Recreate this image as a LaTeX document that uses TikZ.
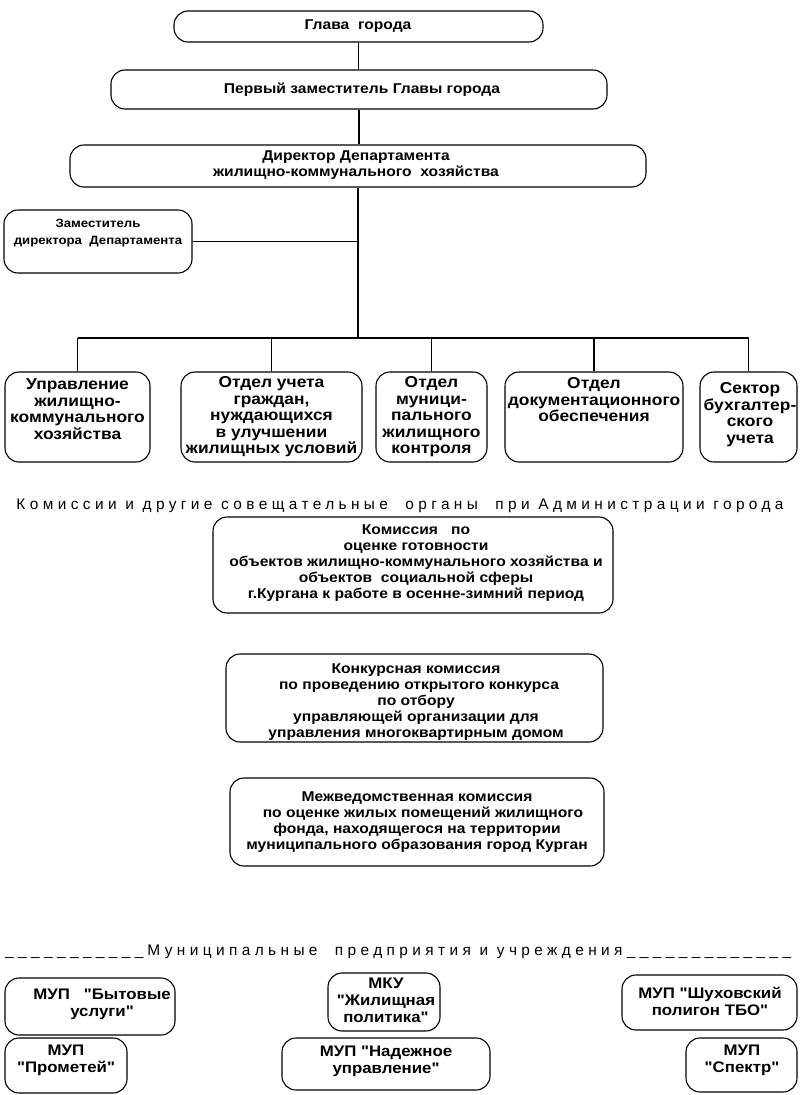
\documentclass[tikz,border=0pt]{standalone}
\usepackage{fontspec}
\setmainfont{Liberation Sans}[FakeStretch=1.1,Ligatures=TeXOff]
\newfontfamily\spc{Liberation Sans}[FakeStretch=1.0,LetterSpace=28.6]
\begin{document}
\begin{tikzpicture}[x=1pt,y=-1pt,
  box/.style={draw, line width=1.1pt, rounded corners=14pt, inner sep=0pt},
  ln/.style={line width=1.1pt},
  txt/.style={align=center, inner sep=0pt, font=\bfseries\fontsize{14.2}{16}\selectfont},
  txtb/.style={align=center, inner sep=0pt, font=\bfseries\fontsize{15.8}{16.5}\selectfont},
  txts/.style={align=center, inner sep=0pt, font=\bfseries\fontsize{12}{17}\selectfont},
  txtm/.style={align=center, inner sep=0pt, font=\bfseries\fontsize{15.3}{17}\selectfont},
  head/.style={inner sep=0pt, font=\spc\fontsize{15.4}{16}\selectfont}]
\useasboundingbox[fill=white] (0,0) rectangle (800,1095);

% top chain
\node[box, minimum width=369pt, minimum height=31pt] (glava) at (358.5,26.5) {};
\node[txt] (glavat) at (358,26) {Глава\ \ города};
\node[box, minimum width=496pt, minimum height=39pt] (perv) at (359,89.5) {};
\node[txt] (pervt) at (362,90) {Первый заместитель Главы города};
\node[box, minimum width=576pt, minimum height=42pt] (dir) at (358,166) {};
\node[txt] (dirt) at (356,165) {Директор Департамента\\жилищно-коммунального\ \ хозяйства};
\node[box, minimum width=188pt, minimum height=63pt] (zam) at (98,241.5) {};
\node[txts] (zamt) at (98,233.5) {Заместитель\\директора\ \ Департамента};

% bottom row of departments
\node[box, minimum width=145pt, minimum height=90pt] (b1) at (77.5,417) {};
\node[txtb] (b1t) at (77.5,409) {Управление\\жилищно-\\коммунального\\хозяйства};
\node[box, minimum width=181pt, minimum height=90pt] (b2) at (271.5,417) {};
\node[txtb] (b2t) at (271.5,417) {Отдел учета\\граждан,\\нуждающихся\\в улучшении\\жилищных условий};
\node[box, minimum width=111pt, minimum height=90pt] (b3) at (431.5,417) {};
\node[txtb] (b3t) at (431.5,417) {Отдел\\муници-\\пального\\жилищного\\контроля};
\node[box, minimum width=178pt, minimum height=90pt] (b4) at (594,417) {};
\node[txtb] (b4t) at (594,400) {Отдел\\документационного\\обеспечения};
\node[box, minimum width=97pt, minimum height=90pt] (b5) at (748.5,417) {};
\node[txtb] (b5t) at (750,414.5) {Сектор\\бухгалтер-\\ского\\учета};

% connectors
\coordinate (bus) at (358,338);
\draw[ln] (glava.south) -- (glava.south |- perv.north);
\draw[ln] (perv.south) -- (perv.south |- dir.north);
\draw[ln] (dir.south) -- (dir.south |- bus);
\draw[ln] (zam.east) -- (zam.east -| dir.south);
\draw[ln] (b1.north |- bus) -- (b5.north |- bus);
\foreach \b in {b1,b2,b3,b4,b5} \draw[ln] (\b.north) -- (\b.north |- bus);

% commissions
\node[head, anchor=base] (hcom) at (400,509) {Комиссии и другие совещательные\ \ органы\ \ при Администрации города};
\node[box, minimum width=400pt, minimum height=96pt] (c1) at (413,565) {};
\node[txt] (c1t) at (416,563) {Комиссия\ \ \ по\\оценке готовности\\объектов жилищно-коммунального хозяйства и\\объектов\ \ социальной сферы\\г.Кургана к работе в осенне-зимний период};
\node[box, minimum width=377pt, minimum height=88pt] (c2) at (414.5,698) {};
\node[txt] (c2t) at (416,702) {Конкурсная комиссия\\\hspace*{6pt}по проведению открытого конкурса\\по отбору\\управляющей организации для\\управления многоквартирным домом};
\node[box, minimum width=374pt, minimum height=88pt] (c3) at (417,822) {};
\node[txt] (c3t) at (417,822) {Межведомственная комиссия\\\hspace*{12pt}по оценке жилых помещений жилищного\\фонда, находящегося на территории\\муниципального образования город Курган};

% municipal enterprises
\node[head, anchor=base west] (hmun) at (5,955) {\_\_\_\_\_\_\_\_\_\_\_\hspace{4pt}Муниципальные\ \ предприятия и учреждения\_\_\_\_\_\_\_\_\_\_\_\_\_};
\node[box, minimum width=170pt, minimum height=57pt] (m1) at (90,1006.5) {};
\node[txtm] (m1t) at (102,1004) {МУП\ \ \ "Бытовые\\услуги"};
\node[box, minimum width=122pt, minimum height=55pt] (m2) at (66,1065.5) {};
\node[txtm] (m2t) at (66,1060) {МУП\\"Прометей"};
\node[box, minimum width=112pt, minimum height=58pt] (m3) at (384,1002) {};
\node[txtm] (m3t) at (386,1000) {МКУ\\"Жилищная\\политика"};
\node[box, minimum width=208pt, minimum height=52pt] (m4) at (386,1064) {};
\node[txtm] (m4t) at (386,1061) {МУП "Надежное\\управление"};
\node[box, minimum width=175pt, minimum height=55pt] (m5) at (709.5,1002.5) {};
\node[txtm] (m5t) at (710,1001) {МУП "Шуховский\\полигон ТБО"};
\node[box, minimum width=111pt, minimum height=54pt] (m6) at (741.5,1065) {};
\node[txtm] (m6t) at (742,1060) {МУП\\"Спектр"};
\end{tikzpicture}
\end{document}
